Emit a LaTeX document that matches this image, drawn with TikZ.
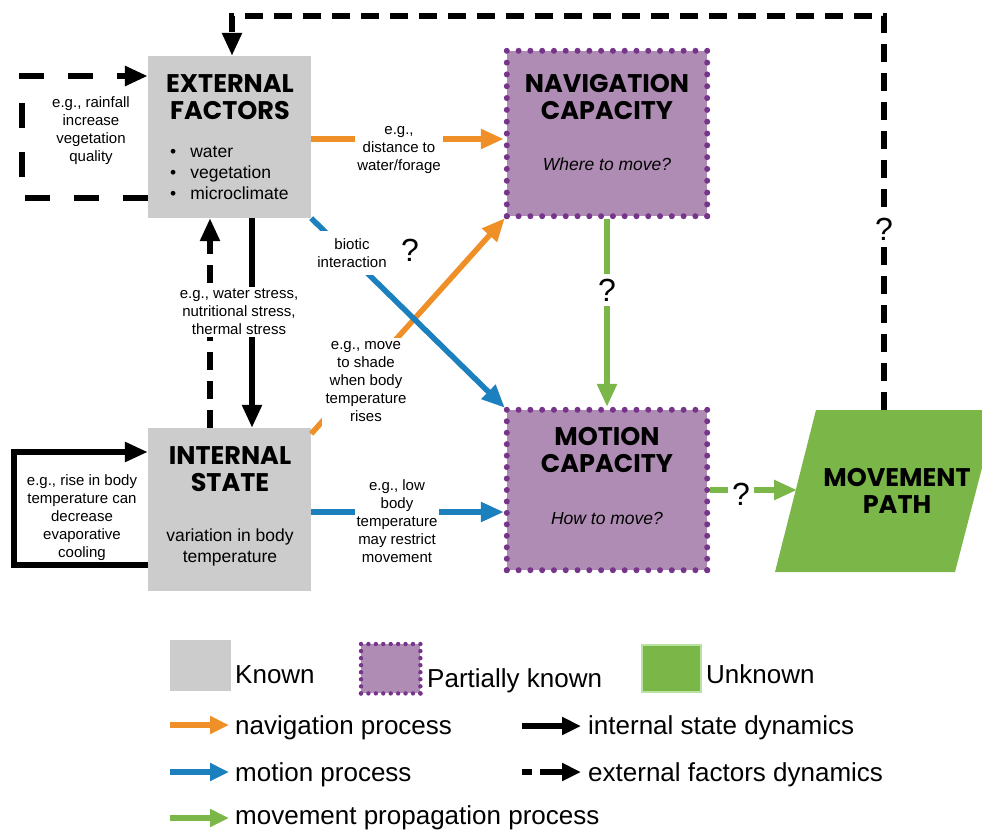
\documentclass[tikz,border=0pt]{standalone}
\usepackage{fontspec}
\setmainfont{Liberation Sans}
\newfontfamily\titlefont{Poppins}
\usetikzlibrary{arrows.meta,calc}
\definecolor{cgray}{HTML}{CCCCCC}
\definecolor{cpurple}{HTML}{AF8CB3}
\definecolor{cdot}{HTML}{76348A}
\definecolor{cgreen}{HTML}{7AB648}
\definecolor{cgreenl}{HTML}{B9E3A2}
\definecolor{corange}{HTML}{EF8F27}
\definecolor{cblue}{HTML}{1C80BF}
% #1 node, #2 intervals across, #3 intervals down, #4 dot radius
\newcommand\dotborder[4]{%
  \foreach \i in {0,...,#2}{%
    \fill[cdot] ($(#1.north west)!\i/#2!(#1.north east)$) circle (#4);
    \fill[cdot] ($(#1.south west)!\i/#2!(#1.south east)$) circle (#4);}
  \foreach \i in {1,...,#3}{%
    \fill[cdot] ($(#1.north west)!\i/#3!(#1.south west)$) circle (#4);
    \fill[cdot] ($(#1.north east)!\i/#3!(#1.south east)$) circle (#4);}
}
\begin{document}
\begin{tikzpicture}[x=1pt,y=-1pt,
  knownbox/.style={fill=cgray,draw=none,inner sep=0pt},
  partialbox/.style={fill=cpurple,draw=none,inner sep=0pt},
  ttl/.style={font=\titlefont\bfseries\fontsize{25.5}{27}\selectfont,align=center,inner sep=0pt},
  body/.style={font=\fontsize{17.5}{21}\selectfont,align=center,inner sep=0pt},
  lbl/.style={font=\fontsize{15}{18}\selectfont,align=center,fill=white,inner sep=2pt},
  lblnf/.style={font=\fontsize{15}{18}\selectfont,align=center,inner sep=0pt},
  qm/.style={font=\fontsize{32}{34}\selectfont,fill=white,inner sep=1pt},
  leg/.style={font=\fontsize{26}{28}\selectfont,anchor=base west,inner sep=0pt},
  tip/.style={-{Triangle[length=23pt,width=19pt]}},
  arrorange/.style={tip,draw=corange,line width=5.5pt},
  arrblue/.style={tip,draw=cblue,line width=5.5pt},
  arrgreen/.style={tip,draw=cgreen,line width=5.5pt},
  arrblack/.style={tip,draw=black,line width=5.5pt},
  arrdash/.style={tip,draw=black,line width=5.5pt,dash pattern=on 18pt off 11pt},
  arrdashwide/.style={tip,draw=black,line width=6pt,dash pattern=on 25pt off 24pt},
  legtip/.style={-{Triangle[length=19pt,width=17pt]}}
]
\useasboundingbox (0,0) rectangle (982,830);

% boxes
\node[knownbox,minimum width=163pt,minimum height=162pt] (ef) at (229.5,137) {};
\node[knownbox,minimum width=163pt,minimum height=163pt] (is) at (229.5,509.5) {};
\node[partialbox,minimum width=200pt,minimum height=165pt] (nav) at (607,133.5) {};
\node[partialbox,minimum width=200pt,minimum height=160pt] (mot) at (607,490) {};
\dotborder{nav}{17}{14}{3pt}
\dotborder{mot}{17}{14}{3pt}
\fill[cgreen] (816,410) -- (997,410) -- (955,572) -- (775,572) -- cycle;
\coordinate (mpT) at (884,410);
\coordinate (mpL) at (797,490);
\coordinate (tc) at (884,16);

% box texts
\node[ttl] (eft) at (230,97) {EXTERNAL\\FACTORS};
\node[body,align=left,anchor=north west] (efb) at (170,146) {\textbullet\hspace{14pt}water\\\textbullet\hspace{14pt}vegetation\\\textbullet\hspace{14pt}microclimate};
\node[ttl] (ist) at (230,469) {INTERNAL\\STATE};
\node[body] (isb) at (230,547) {variation in body\\temperature};
\node[ttl] (navt) at (607,97) {NAVIGATION\\CAPACITY};
\node[body,font=\itshape\fontsize{17.5}{21}\selectfont] (navb) at (607,164) {Where to move?};
\node[ttl] (mott) at (607,450) {MOTION\\CAPACITY};
\node[body,font=\itshape\fontsize{17.5}{21}\selectfont] (motb) at (607,518) {How to move?};
\node[ttl] (mpt) at (897,491) {MOVEMENT\\PATH};

% connectors
\draw[arrdash] (mpT) -- (tc) -| ([xshift=2.5pt]ef.north);
\node[qm] (q1) at (884,229) {?};
\draw[arrdashwide] (ef.west |- 0,198) -- (22,198) -- (22,76) -- (ef.west |- 0,76);
\node[lblnf] (l1) at (91,131) {e.g., rainfall\\increase\\vegetation\\quality};
\draw[arrblack] (ef.south -| 252,0) -- (is.north -| 252,0);
\draw[arrdash] (is.north -| 210,0) -- (ef.south -| 210,0);
\node[lbl] (l2) at (239,312) {e.g., water stress,\\nutritional stress,\\thermal stress};
\draw[arrblack] (is.west |- 0,565) -- (14,565) -- (14,452) -- (is.west |- 0,452);
\node[lblnf] (l3) at (82,518) {e.g., rise in body\\temperature can\\decrease\\evaporative\\cooling};
\draw[arrorange] (ef.east |- 0,139) -- ([xshift=-3pt]nav.west |- 0,139);
\node[lbl] (l4) at (399,150) {e.g.,\\distance to\\water/forage};
\draw[arrorange] ([yshift=-6pt]is.north east) -- ([shift={(-2pt,-2pt)}]nav.south west);
\node[lbl,inner sep=4pt] (l5) at (366,382) {e.g., move\\to shade\\when body\\temperature\\rises};
\draw[arrblue] (ef.south east) -- ([shift={(-2pt,2pt)}]mot.north west);
\node[lbl,inner sep=7pt] (l6) at (352,253) {biotic\\interaction};
\node[font=\fontsize{32}{34}\selectfont,inner sep=0pt] (q2) at (410,250) {?};
\draw[arrblue] (is.east |- 0,512) -- ([xshift=-3pt]mot.west |- 0,512);
\node[lbl] (l7) at (397,521) {e.g., low\\body\\temperature\\may restrict\\movement};
\draw[arrgreen] ([yshift=-3pt]nav.south) -- ([yshift=3pt]mot.north);
\node[qm,inner sep=5pt] (q3) at (607,290) {?};
\draw[arrgreen] ([xshift=3pt]mot.east |- mpL) -- (mpL);
\node[qm,inner sep=4pt] (q4) at (741,494) {?};

% legend
\node[knownbox,minimum width=61pt,minimum height=51pt,anchor=north west] (lk) at (170,640) {};
\node[leg] (lkt) at (235,683) {Known};
\node[partialbox,minimum width=59pt,minimum height=49pt,anchor=north west] (lp) at (361,644) {};
\dotborder{lp}{8}{7}{2.2pt}
\node[leg] (lpt) at (427,687) {Partially known};
\node[fill=cgreen,draw=cgreenl,line width=2pt,minimum width=59pt,minimum height=47pt,inner sep=0pt,anchor=north west] (lu) at (641,644) {};
\node[leg] (lut) at (706,683) {Unknown};
\coordinate (a1s) at (170,725); \coordinate (a1e) at (229,725);
\coordinate (a2s) at (170,772); \coordinate (a2e) at (229,772);
\coordinate (a3s) at (170,818); \coordinate (a3e) at (229,818);
\coordinate (a4s) at (522,726); \coordinate (a4e) at (581,726);
\coordinate (a5s) at (522,772); \coordinate (a5e) at (581,772);
\draw[arrorange,legtip] (a1s) -- (a1e);
\draw[arrblue,legtip] (a2s) -- (a2e);
\draw[arrgreen,legtip] (a3s) -- (a3e);
\draw[arrblack,legtip] (a4s) -- (a4e);
\draw[arrblack,dash pattern=on 10pt off 8pt on 60pt,legtip] (a5s) -- (a5e);
\node[leg] (t1) at (235,734) {navigation process};
\node[leg] (t2) at (235,781) {motion process};
\node[leg] (t3) at (235,824) {movement propagation process};
\node[leg] (t4) at (588,734) {internal state dynamics};
\node[leg] (t5) at (588,781) {external factors dynamics};
\end{tikzpicture}
\end{document}
